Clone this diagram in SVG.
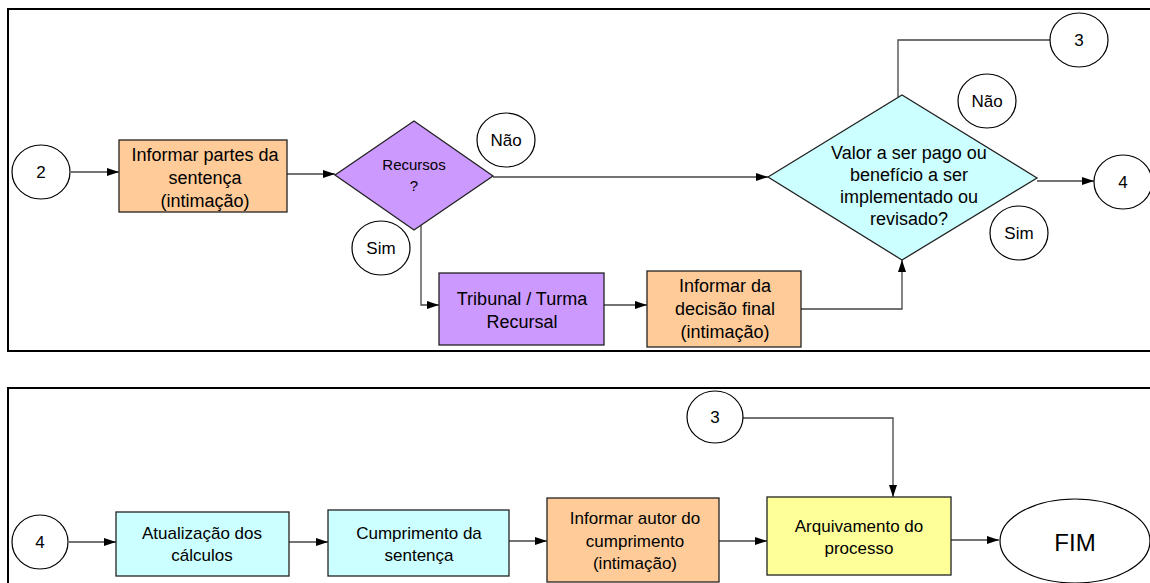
<svg xmlns="http://www.w3.org/2000/svg" width="1150" height="583" viewBox="0 0 1150 583">
<style>
text{font-family:"Liberation Sans",Arial,sans-serif;font-size:18px;fill:#000;text-anchor:middle;dominant-baseline:central}
.bot text{font-size:17px}
.lbl{font-size:17px}
.frame{fill:none;stroke:#000;stroke-width:2}
.box{stroke:#222;stroke-width:1.3}
.circ{fill:#fff;stroke:#000;stroke-width:1.2}
.orange{fill:#FFCC99}.purple{fill:#CC99FF}.cyan{fill:#CCFFFF}.yellow{fill:#FFFF99}
.edge{fill:none;stroke:#444;stroke-width:1.3}
.arr{marker-end:url(#ah)}
</style>
<defs>
<marker id="ah" viewBox="0 0 12 8" refX="12" refY="4" markerWidth="12" markerHeight="8" markerUnits="userSpaceOnUse" orient="auto">
<path d="M0,0 L12,4 L0,8 Z" fill="#000"/>
</marker>
</defs>
<rect width="1150" height="583" fill="#fff"/>
<path class="frame" d="M1152,9 H8 V351 H1152"/>
<path class="frame" d="M1152,388 H8 V585"/>

<g id="connectors">
<path class="edge arr" d="M71,172 H119"/>
<path class="edge arr" d="M287,174 H335"/>
<path class="edge arr" d="M493,177 H768"/>
<path class="edge arr" d="M421,225 V305 H439"/>
<path class="edge arr" d="M604,305 H647"/>
<path class="edge arr" d="M801,309 H902 V260"/>
<path class="edge" d="M898,97 V40 H1050"/>
<path class="edge arr" d="M1037,181 H1094"/>
<path class="edge arr" d="M69,542 H116"/>
<path class="edge arr" d="M289,542 H328"/>
<path class="edge arr" d="M509,541 H547"/>
<path class="edge arr" d="M719,541 H767"/>
<path class="edge arr" d="M743,418 H893 V497"/>
<path class="edge arr" d="M951,540 H999"/>
</g>

<g id="c2"><ellipse class="circ" cx="41" cy="172" rx="29" ry="27"/><text class="lbl" x="41" y="172">2</text></g>
<g id="informar-partes"><rect class="box orange" x="119" y="140" width="168" height="72"/>
<text x="205" y="155">Informar partes da</text><text x="205" y="178">sentença</text><text x="205" y="201">(intimação)</text></g>
<g id="recursos"><polygon class="box purple" points="335,175 414,121 493,176 414,230"/>
<text x="414" y="164" style="font-size:15px">Recursos</text><text x="414" y="185" style="font-size:15px">?</text></g>
<g id="nao1"><ellipse class="circ" cx="506" cy="140" rx="29" ry="27"/><text class="lbl" x="506" y="140">Não</text></g>
<g id="sim1"><ellipse class="circ" cx="381" cy="248" rx="29" ry="27"/><text class="lbl" x="381" y="248">Sim</text></g>
<g id="tribunal"><rect class="box purple" x="439" y="273" width="165" height="72"/>
<text x="522" y="299">Tribunal / Turma</text><text x="522" y="322">Recursal</text></g>
<g id="informar-decisao"><rect class="box orange" x="647" y="271" width="154" height="76"/>
<text x="725" y="286">Informar da</text><text x="725" y="309">decisão final</text><text x="725" y="332">(intimação)</text></g>
<g id="valor"><polygon class="box cyan" points="768,177 902,95 1037,178 902,260"/>
<text x="909" y="153">Valor a ser pago ou</text><text x="909" y="175">benefício a ser</text><text x="909" y="197">implementado ou</text><text x="909" y="219">revisado?</text></g>
<g id="c3top"><ellipse class="circ" cx="1079" cy="40" rx="29" ry="27"/><text class="lbl" x="1079" y="40">3</text></g>
<g id="nao2"><ellipse class="circ" cx="987" cy="101" rx="29" ry="27"/><text class="lbl" x="987" y="101">Não</text></g>
<g id="sim2"><ellipse class="circ" cx="1019" cy="233" rx="29" ry="27"/><text class="lbl" x="1019" y="233">Sim</text></g>
<g id="c4top"><ellipse class="circ" cx="1123" cy="182" rx="29" ry="27"/><text class="lbl" x="1123" y="182">4</text></g>

<g class="bot">
<g id="c4"><ellipse class="circ" cx="40" cy="542" rx="28" ry="27"/><text x="40" y="542">4</text></g>
<g id="atualizacao"><rect class="box cyan" x="116" y="512" width="173" height="64"/>
<text x="202" y="533">Atualização dos</text><text x="202" y="555">cálculos</text></g>
<g id="cumprimento"><rect class="box cyan" x="328" y="510" width="181" height="66"/>
<text x="419" y="533">Cumprimento da</text><text x="419" y="555">sentença</text></g>
<g id="informar-autor"><rect class="box orange" x="547" y="498" width="172" height="84"/>
<text x="635" y="518">Informar autor do</text><text x="635" y="541">cumprimento</text><text x="635" y="563">(intimação)</text></g>
<g id="c3"><ellipse class="circ" cx="715" cy="417" rx="28" ry="26"/><text x="715" y="417">3</text></g>
<g id="arquivamento"><rect class="box yellow" x="767" y="497" width="184" height="78"/>
<text x="859" y="526">Arquivamento do</text><text x="859" y="548">processo</text></g>
<g id="fim"><ellipse class="circ" cx="1075" cy="541" rx="75" ry="42"/><text x="1075" y="542" style="font-size:24px">FIM</text></g>
</g>
</svg>
